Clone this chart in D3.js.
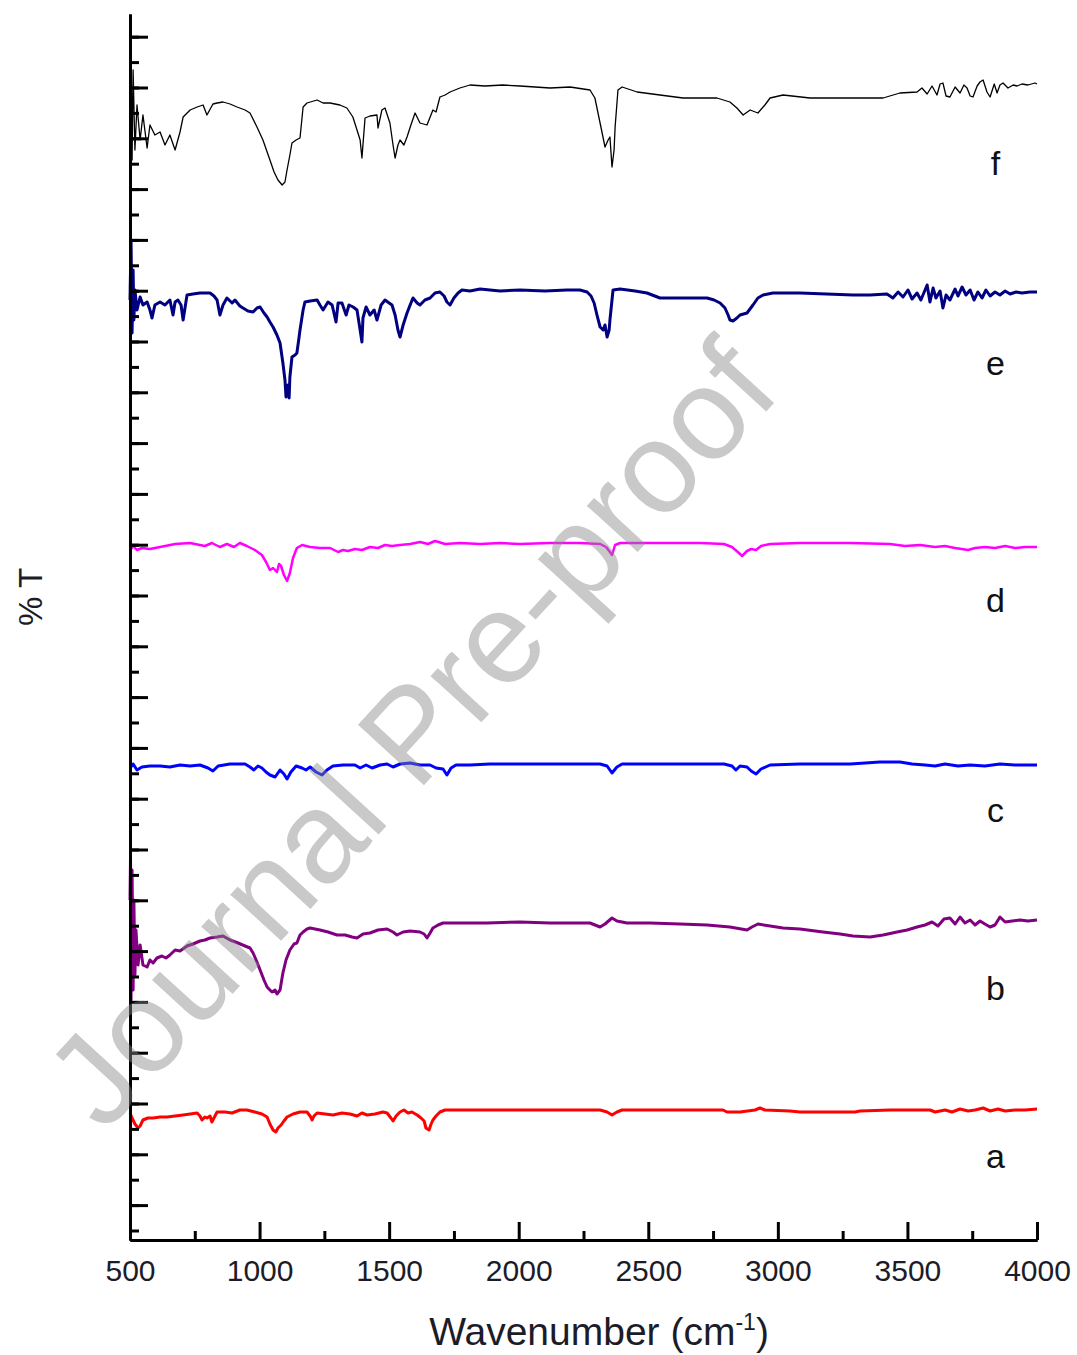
<!DOCTYPE html>
<html>
<head>
<meta charset="utf-8">
<script src="https://cdnjs.cloudflare.com/ajax/libs/d3/7.8.5/d3.min.js"></script>
<style>
  body { margin: 0; background: #fff; }
  text { font-family: "Liberation Sans", Arial, sans-serif; }
</style>
</head>
<body>
<div id="chart-area"></div>
<script>
// FTIR spectra, stacked with offsets (y in arbitrary %T units)
var labels = ["a", "b", "c", "d", "e", "f"];
var colors = ["#ff0000", "#800080", "#0000ff", "#ff00ff", "#000080", "#000000"];
var labelPos = [7.2, 24.0, 41.8, 62.8, 86.5, 106.5];

var xTicks = [500, 1000, 1500, 2000, 2500, 3000, 3500, 4000];

var wnA = [500,508,519,531,539,550,569,589,616,643,674,705,732,759,770,778,789,797,809,816,828,836,867,894,924,951,982,1009,1029,1040,1052,1063,1071,1083,1094,1106,1129,1156,1183,1195,1203,1210,1222,1253,1283,1318,1349,1376,1395,1415,1445,1476,1492,1507,1515,1527,1542,1557,1573,1588,1608,1623,1635,1642,1654,1662,1669,1681,1696,1716,1773,1851,1928,2121,2314,2341,2360,2379,2399,2622,2788,2804,2854,2912,2931,2950,3047,3085,3298,3317,3433,3587,3607,3645,3672,3703,3734,3761,3792,3819,3850,3877,3915,3954,4000];
var tA = [12.7,12.2,11.6,11.2,11.4,12.0,12.2,12.2,12.3,12.3,12.4,12.5,12.6,12.7,12.4,12.0,12.3,12.2,12.4,11.8,12.4,12.8,12.8,12.7,13.0,13.0,12.8,12.6,12.3,11.6,11.0,10.8,11.2,11.5,11.9,12.3,12.6,12.8,12.8,12.4,12.0,12.4,12.7,12.6,12.5,12.7,12.6,12.4,12.7,12.5,12.6,12.8,12.7,12.2,11.9,12.4,12.8,13.0,12.7,12.8,12.5,12.2,11.9,11.2,11.0,11.6,12.0,12.4,12.8,13.0,13.0,13.0,13.0,13.0,13.0,12.8,12.5,12.8,13.0,13.0,13.0,12.8,12.8,13.0,13.2,13.0,12.9,12.8,12.8,12.9,13.0,13.0,12.8,13.0,12.8,13.1,12.9,13.0,13.2,12.9,13.1,12.9,13.0,13.0,13.1];

var wnB = [500,502,504,508,512,515,519,523,531,539,550,566,577,589,604,623,639,654,674,693,720,743,770,789,809,836,859,886,917,944,963,975,990,1002,1017,1029,1040,1048,1060,1067,1079,1090,1102,1117,1133,1144,1156,1168,1183,1195,1233,1264,1299,1330,1357,1376,1399,1426,1457,1492,1515,1530,1554,1581,1619,1635,1646,1658,1669,1689,1708,1773,1878,2005,2121,2275,2314,2333,2360,2379,2418,2507,2622,2727,2815,2881,2900,2923,2970,3020,3085,3174,3240,3290,3356,3406,3460,3499,3537,3568,3595,3618,3641,3664,3684,3703,3722,3742,3761,3780,3799,3819,3838,3857,3877,3904,3935,3965,4000];
var tB = [34.0,38.3,24.0,37.0,25.0,34.0,26.5,31.0,27.5,29.5,27.5,27.3,28.0,27.7,28.2,28.4,28.2,28.5,29.0,28.9,29.4,29.6,29.9,30.0,30.2,30.3,30.4,30.0,29.7,29.4,29.2,28.7,27.8,27.0,26.0,25.3,25.0,24.8,25.0,24.6,25.0,26.7,28.0,29.0,29.6,29.7,30.5,30.8,31.1,31.2,31.0,30.8,30.5,30.5,30.3,30.2,30.6,30.7,31.0,31.1,30.8,30.5,30.8,30.9,30.8,30.6,30.2,30.7,31.2,31.5,31.7,31.7,31.7,31.8,31.7,31.7,31.3,31.6,32.2,31.9,31.7,31.7,31.6,31.5,31.3,31.0,31.3,31.6,31.4,31.2,31.1,30.8,30.6,30.4,30.3,30.5,30.8,31.0,31.3,31.5,31.8,31.4,32.1,32.2,31.6,32.3,31.7,32.0,31.5,31.9,31.6,31.3,31.5,32.3,31.8,31.9,32.0,31.9,32.0];

var wnC = [500,512,527,546,577,616,654,693,732,770,801,820,840,886,944,963,978,994,1009,1025,1040,1060,1079,1094,1106,1121,1141,1164,1179,1195,1218,1241,1260,1283,1322,1368,1388,1411,1434,1465,1492,1515,1542,1581,1619,1658,1681,1708,1723,1739,1758,1812,1889,2005,2159,2314,2341,2360,2379,2399,2622,2792,2823,2838,2854,2881,2897,2916,2935,2970,3085,3279,3394,3471,3518,3568,3607,3645,3695,3742,3799,3857,3915,4000];
var tC = [47.2,47.6,47.0,47.3,47.4,47.4,47.3,47.5,47.4,47.5,47.2,46.9,47.4,47.6,47.6,47.3,47.0,47.4,47.2,46.8,46.5,46.3,47.0,46.6,46.1,46.8,47.4,47.2,47.0,47.3,46.8,46.5,47.0,47.4,47.5,47.5,47.2,47.5,47.2,47.5,47.6,47.3,47.6,47.7,47.5,47.5,47.2,47.1,46.5,47.2,47.5,47.5,47.6,47.6,47.6,47.6,47.4,46.7,47.3,47.6,47.6,47.6,47.4,47.0,47.4,47.3,46.9,46.6,47.1,47.5,47.6,47.6,47.8,47.8,47.6,47.5,47.4,47.6,47.4,47.5,47.4,47.6,47.5,47.5];

var wnD = [500,512,527,546,577,616,674,732,789,816,847,874,901,924,951,982,1009,1025,1040,1052,1067,1075,1083,1094,1106,1117,1129,1144,1164,1195,1233,1272,1303,1322,1341,1368,1395,1426,1457,1484,1511,1542,1581,1619,1650,1677,1716,1773,1851,1928,2005,2121,2236,2314,2337,2352,2360,2372,2391,2507,2700,2792,2823,2850,2862,2881,2897,2916,2935,2970,3085,3279,3433,3491,3549,3607,3645,3684,3734,3761,3799,3838,3877,3915,3954,4000];
var tD = [68.9,69.4,69.0,69.2,69.1,69.3,69.6,69.7,69.4,69.7,69.3,69.6,69.3,69.7,69.4,69.0,68.5,67.8,67.0,67.2,66.8,67.6,67.4,66.5,65.9,66.7,68.2,69.2,69.5,69.3,69.2,69.2,68.8,69.0,68.9,69.1,69.0,69.3,69.2,69.5,69.4,69.5,69.6,69.8,69.6,69.9,69.6,69.7,69.6,69.7,69.6,69.7,69.7,69.6,69.3,68.8,68.5,69.5,69.7,69.7,69.7,69.6,69.3,68.7,68.4,68.9,69.1,69.0,69.4,69.6,69.7,69.7,69.6,69.4,69.5,69.3,69.4,69.2,69.0,69.2,69.3,69.2,69.4,69.2,69.3,69.3];

var wnE = [500,504,508,512,515,519,527,539,550,566,577,585,596,616,635,654,666,674,685,697,705,720,743,770,809,824,836,847,859,874,894,905,924,936,955,975,990,1002,1017,1029,1040,1052,1067,1079,1090,1098,1102,1110,1114,1117,1125,1137,1144,1152,1156,1168,1175,1195,1222,1233,1245,1264,1280,1295,1303,1318,1334,1345,1361,1376,1388,1395,1399,1411,1426,1442,1453,1469,1484,1500,1511,1523,1534,1542,1554,1569,1581,1592,1608,1619,1638,1658,1677,1696,1712,1723,1735,1750,1766,1781,1812,1851,1889,1928,2005,2101,2186,2236,2264,2279,2291,2302,2314,2326,2333,2341,2349,2352,2360,2364,2391,2449,2495,2545,2622,2727,2754,2777,2796,2808,2815,2827,2842,2854,2881,2904,2923,2943,2981,3085,3290,3356,3421,3444,3464,3483,3502,3518,3537,3552,3568,3576,3587,3599,3610,3626,3637,3649,3664,3684,3695,3711,3726,3742,3757,3772,3788,3803,3819,3838,3857,3877,3896,3919,3942,3973,4000];
var tE = [94.0,100.0,90.7,97.0,92.0,95.0,93.0,94.3,93.5,93.8,93.0,92.2,93.5,93.8,93.5,94.0,92.5,93.8,94.0,93.5,92.0,94.5,94.6,94.7,94.7,94.4,94.0,92.5,93.5,94.2,93.7,94.0,93.4,93.2,92.9,92.8,93.2,93.3,92.7,92.3,91.8,91.3,90.5,89.7,87.7,86.0,84.3,85.5,84.2,86.3,88.3,88.5,88.7,90.2,91.0,93.0,93.8,93.9,94.0,93.5,93.0,93.8,93.5,91.8,93.7,93.7,92.5,93.5,93.3,93.0,91.0,89.8,92.2,93.3,92.5,93.0,92.0,93.5,94.0,93.7,93.5,92.5,91.0,90.3,91.5,92.7,93.5,94.2,93.7,93.5,94.0,94.2,94.7,94.8,94.4,93.8,93.5,94.2,94.7,95.0,94.9,95.1,95.0,94.9,95.0,94.9,95.0,95.0,94.8,94.4,93.7,92.5,91.3,91.0,91.5,90.3,91.0,92.0,94.0,95.0,95.1,94.9,94.7,94.2,94.2,94.2,94.0,93.7,93.2,92.5,92.0,91.9,92.2,92.5,92.7,93.5,94.2,94.5,94.7,94.7,94.5,94.5,94.6,94.2,94.8,94.3,95.0,94.1,94.7,94.0,95.0,95.5,93.8,95.2,94.2,94.9,93.2,94.5,94.0,95.1,94.4,95.3,94.5,95.0,94.0,94.8,94.2,95.0,94.4,94.8,94.5,94.9,94.6,94.8,94.7,94.8,94.8];

var wnF = [500,504,508,512,519,527,539,550,566,577,596,616,635,654,674,693,705,732,759,782,797,820,836,859,886,913,944,963,990,1013,1040,1056,1071,1087,1098,1106,1117,1125,1141,1156,1168,1183,1222,1245,1272,1310,1337,1360,1376,1388,1395,1407,1426,1453,1457,1472,1484,1503,1515,1523,1534,1542,1557,1569,1584,1600,1619,1646,1669,1681,1696,1716,1735,1773,1812,1870,1939,2005,2121,2198,2275,2294,2314,2333,2345,2352,2360,2368,2372,2383,2399,2457,2545,2634,2765,2815,2842,2866,2893,2923,2950,2970,3020,3124,3406,3471,3537,3556,3576,3595,3614,3626,3637,3649,3664,3684,3703,3718,3730,3742,3753,3769,3780,3792,3807,3819,3835,3846,3857,3869,3888,3908,3923,3942,3965,3992,4000];
var tF = [114.0,119.5,108.0,117.0,109.0,113.5,110.0,112.5,109.2,111.5,110.5,110.8,109.5,110.5,109.0,110.8,112.3,113.0,113.3,113.5,112.5,113.6,113.7,113.8,113.6,113.3,113.0,112.7,111.3,110.0,108.0,106.8,106.0,105.5,105.8,107.0,108.5,109.7,110.0,110.2,113.3,113.7,114.0,113.7,113.7,113.5,113.2,112.3,111.0,110.0,108.2,112.2,112.4,112.5,111.2,113.0,113.2,111.7,109.5,108.2,109.5,110.0,109.5,110.3,111.5,112.7,111.7,111.5,113.0,112.8,114.3,114.5,114.8,115.2,115.5,115.4,115.5,115.4,115.2,115.3,115.0,114.2,111.7,109.3,110.0,110.3,107.3,109.0,111.3,115.0,115.3,114.8,114.5,114.2,114.2,113.8,113.2,112.5,113.0,112.7,113.5,114.2,114.5,114.2,114.2,114.7,114.8,115.2,114.6,115.4,114.5,115.6,115.7,114.4,114.3,115.3,114.7,115.5,115.2,114.4,114.3,115.4,115.8,116.0,114.8,114.3,115.6,114.7,115.5,115.7,115.2,115.5,115.4,115.6,115.5,115.7,115.6];

var wavenumbers = [wnA, wnB, wnC, wnD, wnE, wnF];
var transmittance = [tA, tB, tC, tD, tE, tF];
var widths = [3, 3, 3, 2.5, 3, 1.3];

var W = 1077, H = 1355;
var margin = { left: 130, right: 40, top: 14, bottom: 115 };

var svg = d3.select("#chart-area")
    .append("svg")
        .attr("width", W)
        .attr("height", H);

var xScale = d3.scaleLinear()
    .domain([500, 4000])
    .range([margin.left, W - margin.right]);

var yScale = d3.scaleLinear()
    .domain([0, 122.6])
    .range([H - margin.bottom, margin.top]);

// lines
var line = d3.line()
    .x(function(d){ return xScale(d[0]); })
    .y(function(d){ return yScale(d[1]); });

wavenumbers.forEach(function(wn, i){
    var pts = wn.map(function(w, j){ return [w, transmittance[i][j]]; });
    svg.append("path")
        .datum(pts)
        .attr("fill", "none")
        .attr("stroke", colors[i])
        .attr("stroke-width", widths[i])
        .attr("stroke-linejoin", "round")
        .attr("d", line);
});

// series labels
labels.forEach(function(l, i){
    svg.append("text")
        .attr("x", xScale(3840))
        .attr("y", yScale(labelPos[i]))
        .attr("text-anchor", "middle")
        .attr("font-size", "34px")
        .attr("fill", "#111")
        .text(l);
});

// axes (ticks point inward)
var yMinor = d3.range(0.95, 122, 2.54);
var yMajor = yMinor.filter(function(d, i){ return i % 2 == 1; });

var yAxisMinor = d3.axisLeft(yScale).tickValues(yMinor).tickSizeInner(-9).tickSizeOuter(0).tickFormat("");
var yAxisMajor = d3.axisLeft(yScale).tickValues(yMajor).tickSizeInner(-18).tickSizeOuter(0).tickFormat("");

var xMinor = d3.range(750, 4000, 500);
var xAxisMinor = d3.axisBottom(xScale).tickValues(xMinor).tickSizeInner(-9).tickSizeOuter(0).tickFormat("");
var xAxisMajor = d3.axisBottom(xScale).tickValues(xTicks).tickSizeInner(-18).tickSizeOuter(0)
    .tickPadding(20).tickFormat(d3.format("d"));

[yAxisMinor, yAxisMajor].forEach(function(ax){
    svg.append("g")
        .attr("class", "y axis")
        .attr("transform", "translate(" + margin.left + ",0)")
        .call(ax);
});
[xAxisMinor, xAxisMajor].forEach(function(ax){
    svg.append("g")
        .attr("class", "x axis")
        .attr("transform", "translate(0," + (H - margin.bottom) + ")")
        .call(ax);
});

svg.selectAll(".axis path, .axis line")
    .attr("stroke", "#000")
    .attr("stroke-width", 3);
svg.selectAll(".x.axis text")
    .attr("font-size", "30px")
    .attr("fill", "#1c1c28")
    .attr("font-family", "Liberation Sans, Arial, sans-serif");

// axis titles
var xt = svg.append("text")
    .attr("x", 599)
    .attr("y", 1345)
    .attr("text-anchor", "middle")
    .attr("font-size", "39px")
    .attr("fill", "#1c1c28");
xt.append("tspan").text("Wavenumber (cm");
xt.append("tspan").attr("font-size", "23px").attr("dy", "-15").text("-1");
xt.append("tspan").attr("dy", "15").text(")");

svg.append("text")
    .attr("transform", "translate(42,597) rotate(-90)")
    .attr("text-anchor", "middle")
    .attr("font-size", "33px")
    .attr("fill", "#1c1c28")
    .text("% T");

// watermark
svg.append("text")
    .attr("transform", "translate(410,733) rotate(-47.5)")
    .attr("text-anchor", "middle")
    .attr("dy", "0.35em")
    .attr("font-size", "130px")
    .attr("fill", "#888")
    .attr("fill-opacity", 0.45)
    .text("Journal Pre-proof");
</script>
</body>
</html>
